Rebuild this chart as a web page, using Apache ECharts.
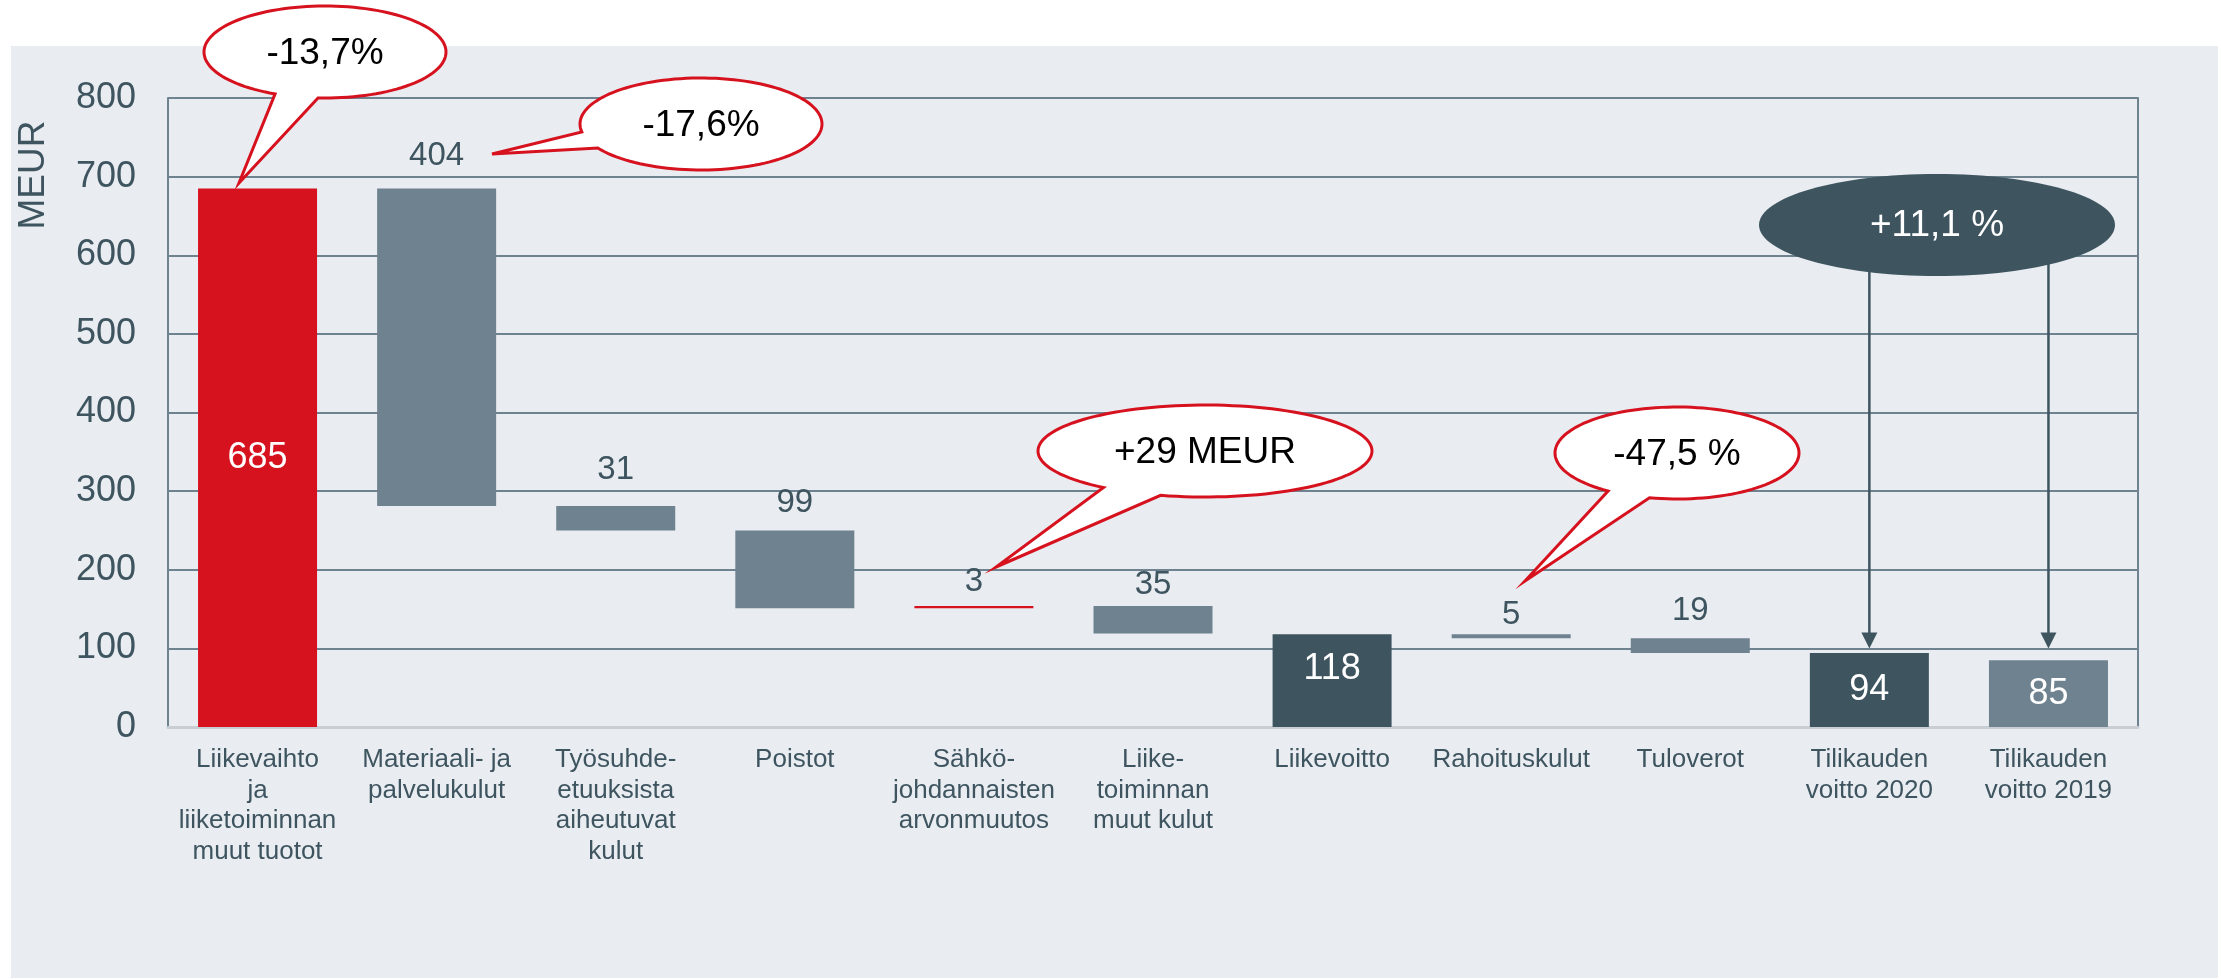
<!DOCTYPE html>
<html>
<head>
<meta charset="utf-8" />
<title>Tuloslaskelma 2020</title>
<style>
	html, body { width: 100%; height: 100%; margin: 0; overflow: hidden; background: #fff; }
	#panel { position: absolute; left: 11px; top: 46px; width: 2207px; height: 932px; background: #e9ecf1; }
	#chart { position: absolute; left: 0; top: 0; width: 100%; height: 100%; }
</style>
</head>
<body>
<div id="panel"></div>
<div id="chart"></div>
<script src="https://cdn.jsdelivr.net/npm/echarts@6/dist/echarts.min.js"></script>
<script>
// kategoriat (x-akseli)
var categories = [
	'Liikevaihto\nja\nliiketoiminnan\nmuut tuotot',
	'Materiaali- ja\npalvelukulut',
	'Työsuhde-\netuuksista\naiheutuvat\nkulut',
	'Poistot',
	'Sähkö-\njohdannaisten\narvonmuutos',
	'Liike-\ntoiminnan\nmuut kulut',
	'Liikevoitto',
	'Rahoituskulut',
	'Tuloverot',
	'Tilikauden\nvoitto 2020',
	'Tilikauden\nvoitto 2019'
];
// pylväiden arvot (MEUR) ja vesiputouksen alareuna
var values = [685, 404, 31, 99, 3, 35, 118, 5, 19, 94, 85];
var bases = [0, 281, 250, 151, 151, 119, 0, 113, 94, 0, 0];
// muutoskuplat
var bubbleTexts = ['-13,7%', '-17,6%', '+29 MEUR', '-47,5 %'];
var profitChange = '+11,1 %';

var RED = '#d7121f', GRAY = '#6e828f', DARK = '#3e5560', TXT = '#3e5560';
var FONT = '"Liberation Sans", Arial, sans-serif';
var barColors = [RED, GRAY, GRAY, GRAY, RED, GRAY, DARK, GRAY, GRAY, DARK, GRAY];
var inside = [1, 0, 0, 0, 0, 0, 1, 0, 0, 1, 1];
var labelGap = [0, 16, 20, 11, 8, 5, 0, 3, 11, 0, 0];

var chart = echarts.init(document.getElementById('chart'));

var option = {
	animation: false,
	textStyle: { fontFamily: FONT },
	grid: { left: 168, top: 98, width: 1970, height: 629, containLabel: false, outerBoundsMode: 'none' },
	xAxis: {
		type: 'category',
		data: categories,
		axisTick: { show: false },
		axisLine: { lineStyle: { color: '#c9ced4', width: 3 } },
		axisLabel: { interval: 0, fontSize: 26, lineHeight: 30.5, color: TXT, margin: 18, fontFamily: FONT }
	},
	yAxis: [
		{
			type: 'value', min: 0, max: 800, interval: 100,
			axisLine: { show: true, lineStyle: { color: GRAY, width: 2 } },
			axisTick: { show: false },
			axisLabel: { fontSize: 36, color: TXT, margin: 32, fontFamily: FONT },
			splitLine: { show: true, showMinLine: false, lineStyle: { color: GRAY, width: 2 } }
		},
		{
			type: 'value', min: 0, max: 800, interval: 100, position: 'right',
			axisLine: { show: true, lineStyle: { color: GRAY, width: 2 } },
			axisTick: { show: false },
			axisLabel: { show: false },
			splitLine: { show: false }
		}
	],
	series: [
		{
			type: 'bar', stack: 'w', barWidth: 119,
			itemStyle: { color: 'transparent' },
			data: bases,
			silent: true
		},
		{
			type: 'bar', stack: 'w', barWidth: 119,
			data: values.map(function (v, i) {
				return {
					value: v,
					itemStyle: { color: barColors[i] },
					label: inside[i] ? {
						show: true, position: 'inside', color: '#fff', fontSize: 36,
						offset: i === 6 ? [0, -12] : [0, 0]
					} : {
						show: true, position: 'top', color: TXT, fontSize: 33, distance: labelGap[i]
					}
				};
			})
		}
	]
};
chart.setOption(option);

// puhekuplat (pikselisijainnit)
var bubbles = [
	{ cx: 325, cy: 52, rx: 121, ry: 46, base: [[275, 94], [318, 98]], tip: [239, 183] },
	{ cx: 701, cy: 124, rx: 121, ry: 46, base: [[582, 132], [598, 148]], tip: [492, 154] },
	{ cx: 1205, cy: 451, rx: 167, ry: 46, base: [[1105, 487], [1160, 496]], tip: [996, 567] },
	{ cx: 1677, cy: 453, rx: 122, ry: 46, base: [[1608, 491], [1650, 497]], tip: [1525, 581] }
];

function bubblePoints(b) {
	function ang(p) { return Math.atan2((p[1] - b.cy) / b.ry, (p[0] - b.cx) / b.rx); }
	var t1 = ang(b.base[0]), t2 = ang(b.base[1]);
	var d = t1 - t2;
	d = ((d % (2 * Math.PI)) + 2 * Math.PI) % (2 * Math.PI);
	if (d < Math.PI) d = d - 2 * Math.PI;
	var pts = [b.tip];
	var n = 120;
	for (var k = 0; k <= n; k++) {
		var t = t2 + d * k / n;
		pts.push([b.cx + b.rx * Math.cos(t), b.cy + b.ry * Math.sin(t)]);
	}
	return pts;
}

var graphics = [];
bubbles.forEach(function (b, i) {
	graphics.push({
		type: 'polygon', z: 100,
		shape: { points: bubblePoints(b) },
		style: { fill: '#fff', stroke: RED, lineWidth: 3, lineJoin: 'miter' }
	});
	graphics.push({
		type: 'text', z: 101, x: b.cx, y: b.cy + 2,
		style: { text: bubbleTexts[i], fill: '#000', font: '37px ' + FONT, textAlign: 'center', textVerticalAlign: 'middle' }
	});
});

// +11,1 % nuolet tilikauden voittoihin
var ell = { cx: 1937, cy: 225, rx: 178, ry: 51 };
[9, 10].forEach(function (idx) {
	var end = chart.convertToPixel({ gridIndex: 0 }, [idx, 100]);
	graphics.push({
		type: 'line', z: 90,
		shape: { x1: end[0], y1: ell.cy, x2: end[0], y2: end[1] - 14 },
		style: { stroke: DARK, lineWidth: 2.5 }
	});
	graphics.push({
		type: 'polygon', z: 90,
		shape: { points: [[end[0] - 8, end[1] - 16], [end[0] + 8, end[1] - 16], [end[0], end[1]]] },
		style: { fill: DARK }
	});
});
graphics.push({
	type: 'ellipse', z: 100,
	shape: ell,
	style: { fill: DARK }
});
graphics.push({
	type: 'text', z: 101, x: ell.cx, y: ell.cy + 1,
	style: { text: profitChange, fill: '#fff', font: '37px ' + FONT, textAlign: 'center', textVerticalAlign: 'middle' }
});
// y-akselin nimi
graphics.push({
	type: 'text', z: 10, x: 34, y: 175, rotation: Math.PI / 2,
	style: { text: 'MEUR', fill: TXT, font: '37px ' + FONT, textAlign: 'center', textVerticalAlign: 'middle' }
});

chart.setOption({ graphic: graphics });
</script>
</body>
</html>
